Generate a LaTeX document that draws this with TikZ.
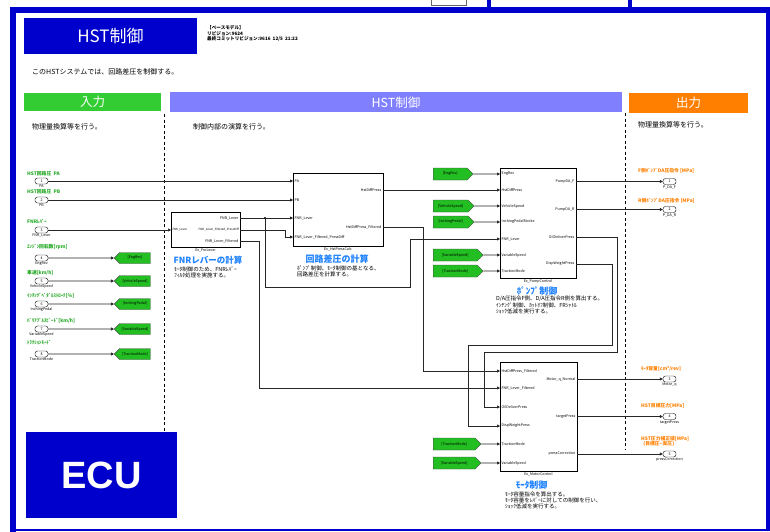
\documentclass[tikz,border=0pt]{standalone}
\usepackage{fontspec}
\setmainfont{Noto Sans CJK JP}
\newfontfamily\ecufont{Liberation Sans}
\usetikzlibrary{positioning,shapes.symbols,arrows.meta}

\definecolor{ecublue}{RGB}{0,0,204}
\definecolor{ingreen}{RGB}{51,204,51}
\definecolor{hstlav}{RGB}{128,128,255}
\definecolor{outorange}{RGB}{255,128,0}
\definecolor{taggreen}{RGB}{34,190,34}
\definecolor{lblgreen}{RGB}{40,170,40}
\definecolor{ttlblue}{RGB}{30,130,255}

\newcommand\pfs{\fontsize{3.6}{4}\selectfont}
\newcommand\lfs{\fontsize{4.8}{5.2}\selectfont}
\newcommand\dfs{\fontsize{5.5}{5.6}\selectfont}
\newcommand\sfs{\fontsize{7}{8}\selectfont}
\newcommand\hfs{\fontsize{12.5}{13}\selectfont}

\tikzset{
  blk/.style={draw, line width=0.9pt, fill=white, inner sep=0pt},
  pl/.style={inner sep=0pt, font=\pfs},
  pname/.style={inner sep=0pt, font=\pfs},
  inport/.style={draw, rounded corners=2.5pt, minimum width=13pt, minimum height=6pt, inner sep=0pt, font=\pfs},
  inlbl/.style={inner sep=0pt, anchor=west, text=lblgreen, font=\lfs\bfseries},
  outlbl/.style={inner sep=0pt, anchor=west, text=outorange, font=\lfs\bfseries, align=left},
  gototag/.style={signal, signal to=west, draw=black!70, fill=taggreen, minimum width=36pt, minimum height=11pt, inner sep=1pt, font=\pfs},
  fromtag/.style={signal, signal to=east, draw=black!70, fill=taggreen, minimum height=12pt, inner sep=1pt, font=\pfs, anchor=west},
  hdr/.style={inner sep=0pt, text=white, font=\hfs},
  ttl/.style={inner sep=0pt, text=ttlblue, font=\fontsize{8.5}{9}\selectfont\bfseries},
  dsc/.style={inner sep=0pt, anchor=north west, align=left, font=\dfs},
  sig/.style={draw=black!85, line width=0.6pt, -{Triangle[length=3pt,width=3pt]}},
  sep/.style={dash pattern=on 3pt off 2.5pt, line width=0.6pt}
}

\begin{document}
\begin{tikzpicture}[x=1pt,y=-1pt]
\useasboundingbox (0,0) rectangle (770,532);
\fill[white] (0,0) rectangle (770,532);

% frame
\fill[ecublue] (10,7) rectangle (770,13);
\fill[ecublue] (10,7) rectangle (16,532);
\fill[ecublue] (10,528.5) rectangle (770,531);
\fill[ecublue] (766,7) rectangle (770,531);
\fill[ecublue] (487,0) rectangle (491,8);
\fill[ecublue] (628,0) rectangle (632,8);
\draw[black!60] (431,0) -- (431,5) -- (466,5) -- (466,0);

% title
\node[fill=ecublue, minimum width=173, minimum height=36, inner sep=0pt, text=white, font=\fontsize{17}{17}\selectfont] (ttlbox) at (110.5,36) {HST制御};
\node[anchor=north west, align=left, inner sep=0pt, font=\fontsize{4.6}{4.4}\selectfont\bfseries] (info) at (207,25.5) {【ベースモデル】\\リビジョン:9624\\最終コミットリビジョン:9616\ \ 12/5\ \ 21:22};
\node[anchor=west, inner sep=0pt, font=\sfs] (intro) at (32,72) {このHSTシステムでは、回路差圧を制御する。};

% sections
\node[hdr, fill=ingreen, minimum width=137, minimum height=18] (hin) at (92.5,102) {入力};
\node[hdr, fill=hstlav, minimum width=452, minimum height=20] (hhst) at (396,102.5) {HST制御};
\node[hdr, fill=outorange, minimum width=119, minimum height=20] (hout) at (688.5,103) {出力};
\node[anchor=west, inner sep=0pt, font=\sfs] (din) at (32,127) {物理量換算等を行う。};
\node[anchor=west, inner sep=0pt, font=\sfs] (dhst) at (193,127) {制御内部の演算を行う。};
\node[anchor=west, inner sep=0pt, font=\sfs] (dout) at (638,125) {物理量換算等を行う。};
\draw[sep] (164,114) -- (164,432);
\draw[sep] (625,113) -- (625,449);

% inputs
\foreach \n/\y/\ly/\txt/\nm in {
  1/181/174/{HST回路圧\ \ PA}/PA,
  2/200/192/{HST回路圧\ \ PB}/PB,
  3/230/222/{FNRﾚﾊﾞｰ}/FNR\_Lever,
  4/258/247/{ｴﾝｼﾞﾝ回転数[rpm]}/EngRev,
  5/281/273/{車速[km/h]}/VehicleSpeed,
  6/304/296/{ｲﾝﾁﾝｸﾞﾍﾟﾀﾞﾙｽﾄﾛｰｸ[\%]}/InchingPedal,
  7/329/321/{ﾊﾞﾘｱﾌﾞﾙｽﾋﾟｰﾄﾞ[km/h]}/VariableSpeed,
  8/354/343/{ﾄﾗｸｼｮﾝﾓｰﾄﾞ}/TractionMode}
{
  \node[inlbl] (il\n) at (27,\ly) {\txt};
  \node[inport] (in\n) at (41.5,\y) {\n};
  \node[pname, below=0.6pt of in\n] (inm\n) {\nm};
}
\foreach \n/\y/\tag in {4/258/EngRev, 5/281/VehicleSpeed, 6/304/InchingPedal, 7/329/VariableSpeed, 8/354/TractionMode}
{
  \node[gototag] (gt\n) at (135,\y) {[\tag]};
  \draw[sig] (in\n) -- (gt\n);
}

% blocks
\node[blk, minimum width=69, minimum height=35] (fnr) at (205.5,229.5) {};
\node[blk, minimum width=90, minimum height=73] (hst) at (338,209.5) {};
\node[blk, minimum width=76, minimum height=110] (pmp) at (538,223) {};
\node[blk, minimum width=77, minimum height=109] (mot) at (538.5,416.5) {};

\foreach \p/\y/\t in {i1/230/FNR\_Lever}
  {\coordinate (fnr-\p) at (171,\y); \node[pl, anchor=west, font=\fontsize{2.9}{3}\selectfont] (fnr-\p-t) at (172.3,\y) {\t};}
\foreach \p/\y/\t in {o1/218/FNR\_Lever, o3/241/FNR\_Lever\_Filtered}
  {\coordinate (fnr-\p) at (240,\y); \node[pl, anchor=east] (fnr-\p-t) at (238.5,\y) {\t};}
\coordinate (fnr-o2) at (240,230);
\node[pl, anchor=east, font=\fontsize{2.9}{3}\selectfont] (fnr-o2-t) at (239,230) {FNR\_Lever\_Filtered\_PressDiff};

\foreach \p/\y/\t in {i1/181/PA, i2/200/PB, i3/218/FNR\_Lever, i4/237/FNR\_Lever\_Filtered\_PressDiff}
  {\coordinate (hst-\p) at (293,\y); \node[pl, anchor=west] (hst-\p-t) at (294.5,\y) {\t};}
\foreach \p/\y/\t in {o1/190/HstDiffPress, o2/227/HstDiffPress\_Filtered}
  {\coordinate (hst-\p) at (383,\y); \node[pl, anchor=east] (hst-\p-t) at (381.5,\y) {\t};}

\foreach \p/\y/\t in {i1/174/EngRev, i2/190/HstDiffPress, i3/206/VehicleSpeed, i4/222/InchingPedalStroke, i5/239/FNR\_Lever, i6/255/VariableSpeed, i7/271/TractionMode}
  {\coordinate (pmp-\p) at (500,\y); \node[pl, anchor=west] (pmp-\p-t) at (501.5,\y) {\t};}
\foreach \p/\y/\t in {o1/181.5/PumpDA\_F, o2/209.5/PumpDA\_R, o3/237/OilDeliverPress, o4/264/DispWeightPress}
  {\coordinate (pmp-\p) at (576,\y); \node[pl, anchor=east] (pmp-\p-t) at (574.5,\y) {\t};}

\foreach \p/\y/\t in {i1/371/HstDiffPress\_Filtered, i2/388/FNR\_Lever\_Filtered, i3/407/OilDeliverPress, i4/426/DispWeightPress, i5/444/TractionMode, i6/463/VariableSpeed}
  {\coordinate (mot-\p) at (500,\y); \node[pl, anchor=west] (mot-\p-t) at (501.5,\y) {\t};}
\foreach \p/\y/\t in {o1/379/Motor\_q\_Normal, o2/416.5/targetPress, o3/454/pressCorrection}
  {\coordinate (mot-\p) at (577,\y); \node[pl, anchor=east] (mot-\p-t) at (575.5,\y) {\t};}

\node[pname, below=1pt of fnr] (fnr-nm) {Ex\_FnrLever};
\node[pname, below=1pt of hst] (hst-nm) {Ex\_HstPressCalc};
\node[pname, below=1pt of pmp] (pmp-nm) {Ex\_PumpControl};
\node[pname, below=1pt of mot] (mot-nm) {Ex\_MotorControl};

% block titles
\node[ttl] (fnr-ttl) at (208,260) {FNRレバーの計算};
\node[dsc] (fnr-dsc) at (174,267) {ﾓｰﾀ制御のため、FNRﾚﾊﾞｰ\\ﾌｨﾙﾀ処理を実施する。};
\node[ttl, font=\fontsize{9}{9}\selectfont\bfseries] (hst-ttl) at (337,259) {回路差圧の計算};
\node[dsc] (hst-dsc) at (297,266) {ﾎﾟﾝﾌﾟ制御、ﾓｰﾀ制御の基となる、\\回路差圧を計算する。};
\node[ttl, font=\fontsize{9}{9}\selectfont\bfseries] (pmp-ttl) at (537,291) {ﾎﾟﾝﾌﾟ制御};
\node[dsc] (pmp-dsc) at (496,296) {D/A圧指令F側、D/A圧指令R側を算出する。\\ｲﾝﾁﾝｸﾞ制御、ｶｯﾄｵﾌ制御、FRｼｬﾄﾙ\\ｼｮｯｸ低減を実行する。};
\node[ttl, font=\fontsize{9}{9}\selectfont\bfseries] (mot-ttl) at (531.5,485) {ﾓｰﾀ制御};
\node[dsc] (mot-dsc) at (505,492) {ﾓｰﾀ容量指令を算出する。\\ﾓｰﾀ容量をﾚﾊﾞｰに対しての制御を行い、\\ｼｮｯｸ低減を実行する。};

% from tags
\foreach \n/\y/\w/\tag/\p in {1/174/40/EngRev/i1, 2/206/41/VehicleSpeed/i3, 3/222/41/InchingPedal/i4, 4/255/50/VariableSpeed/i6, 5/271/50/TractionMode/i7}
{
  \node[fromtag, minimum width=\w] (pt\n) at (433,\y) {[\tag]};
  \draw[sig] (pt\n) -- (pmp-\p);
}
\foreach \n/\y/\tag/\p in {1/444/TractionMode/i5, 2/463/VariableSpeed/i6}
{
  \node[fromtag, minimum width=48] (mt\n) at (433,\y) {[\tag]};
  \draw[sig] (mt\n) -- (mot-\p);
}

% outputs
\foreach \n/\y/\nm in {1/181.5/P\_DA\_F, 2/209.5/P\_DA\_R, 3/379/Motor\_q, 4/416.5/targetPress, 5/454/pressCorrection}
{
  \node[inport] (out\n) at (669.5,\y) {\n};
  \node[pname, below=0.6pt of out\n] (onm\n) {\nm};
}
\node[outlbl] (ol1) at (638,171) {F側ﾎﾟﾝﾌﾟDA圧指令 [MPa]};
\node[outlbl] (ol2) at (638,200.5) {R側ﾎﾟﾝﾌﾟDA圧指令 [MPa]};
\node[outlbl] (ol3) at (641,369) {ﾓｰﾀ容量[cm³/rev]};
\node[outlbl] (ol4) at (641,406) {HST目標圧力[MPa]};
\node[outlbl, anchor=south west] (ol5) at (641,446.5) {HST圧力補正値[MPa]\\\ \ (目標圧−実圧)};

% wires
\coordinate (br) at (265,218);
\draw[sig] (in1) -- (hst-i1);
\draw[sig] (in2) -- (hst-i2);
\draw[sig] (in3) -- (fnr-i1);
\draw[sig] (fnr-o1) -- (hst-i3);
\fill (br) circle (1.1pt);
\draw[sig] (br) |- (410,287) |- (pmp-i5);
\draw[sig] (fnr-o2) -- ++(45,0) |- (hst-i4);
\draw[sig] (fnr-o3) -- ++(19,0) |- (mot-i2);
\draw[sig] (hst-o1) -- (pmp-i2);
\draw[sig] (hst-o2) -- ++(40,0) |- (mot-i1);
\draw[sig] (pmp-o1) -- (out1);
\draw[sig] (pmp-o2) -- (out2);
\draw[sig] (pmp-o3) -- ++(41,0) |- (484,352) |- (mot-i3);
\draw[sig] (pmp-o4) -- ++(36,0) |- (468,345) |- (mot-i4);
\draw[sig] (mot-o1) -- (out3);
\draw[sig] (mot-o2) -- (out4);
\draw[sig] (mot-o3) -- (out5);

% ECU
\node[fill=ecublue, minimum width=151, minimum height=86, inner sep=0pt, text=white, font=\ecufont\fontsize{38}{38}\selectfont\bfseries] (ecu) at (101.5,475) {ECU};
\end{tikzpicture}
\end{document}
